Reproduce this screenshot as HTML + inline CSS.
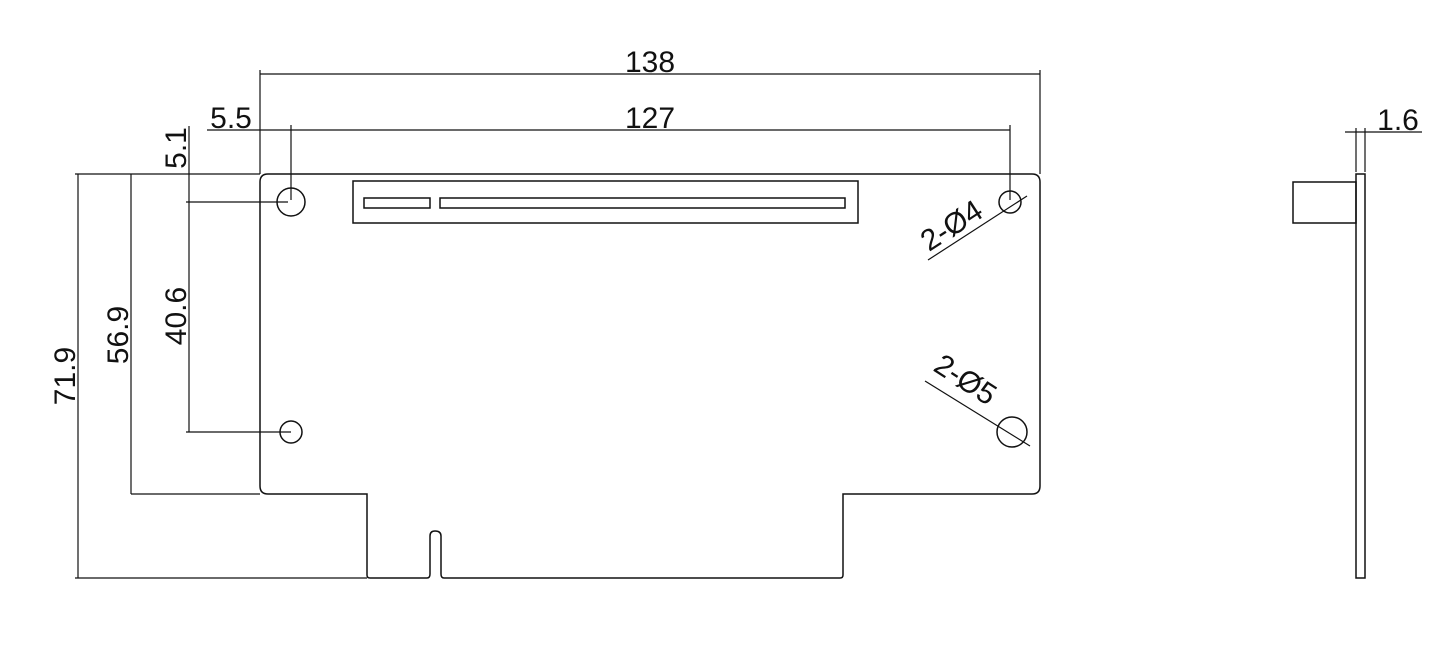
<!DOCTYPE html>
<html><head><style>html,body{margin:0;background:#fff}svg{display:block}</style></head><body>
<svg width="1440" height="666" viewBox="0 0 1440 666" xmlns="http://www.w3.org/2000/svg" font-family="Liberation Sans, sans-serif" font-size="30" fill="none" stroke="#111" stroke-width="1.5">
<path d="M268 174 H1032 Q1040 174 1040 182 V486 Q1040 494 1032 494 H843 V575 Q843 578 840 578 H444 Q441 578 441 574 V536 Q441 531 435 531 Q430 531 430 536 V574 Q430 578 427 578 H370 Q367 578 367 575 V494 H268 Q260 494 260 486 V182 Q260 174 268 174 Z"/>
<rect x="353" y="181" width="505" height="42"/>
<rect x="364" y="198" width="66" height="10"/>
<rect x="440" y="198" width="405" height="10"/>
<circle cx="291" cy="202" r="14"/>
<circle cx="291" cy="432" r="11"/>
<circle cx="1010" cy="202" r="11"/>
<circle cx="1012" cy="432" r="15"/>
<g stroke-width="1.2">
<line x1="260" y1="74" x2="1040" y2="74"/>
<line x1="260" y1="70" x2="260" y2="174"/>
<line x1="1040" y1="70" x2="1040" y2="174"/>
<line x1="207" y1="130" x2="1010" y2="130"/>
<line x1="291" y1="125" x2="291" y2="200"/>
<line x1="1010" y1="125" x2="1010" y2="200"/>
<line x1="75" y1="174" x2="260" y2="174"/>
<line x1="75" y1="578" x2="367" y2="578"/>
<line x1="131" y1="494" x2="260" y2="494"/>
<line x1="78" y1="174" x2="78" y2="578"/>
<line x1="131" y1="174" x2="131" y2="494"/>
<line x1="189" y1="126" x2="189" y2="432"/>
<line x1="186" y1="202" x2="288" y2="202"/>
<line x1="186" y1="432" x2="291" y2="432"/>
<line x1="928" y1="260" x2="1027" y2="196"/>
<line x1="925" y1="381" x2="1030" y2="446"/>
<line x1="1345" y1="132" x2="1422" y2="132"/>
<line x1="1356" y1="128" x2="1356" y2="172"/>
<line x1="1365" y1="128" x2="1365" y2="172"/>
</g>
<rect x="1356" y="174" width="9" height="404"/>
<rect x="1293" y="182" width="63" height="41"/>
<g fill="#111" stroke="none">
<text x="650" y="72" text-anchor="middle">138</text>
<text x="650" y="128" text-anchor="middle">127</text>
<text x="231" y="128" text-anchor="middle">5.5</text>
<text x="1398" y="130" text-anchor="middle">1.6</text>
<text transform="translate(75,376) rotate(-90)" text-anchor="middle">71.9</text>
<text transform="translate(128,335) rotate(-90)" text-anchor="middle">56.9</text>
<text transform="translate(186,316) rotate(-90)" text-anchor="middle">40.6</text>
<text transform="translate(186,148) rotate(-90)" text-anchor="middle">5.1</text>
<text transform="translate(957,234) rotate(-33)" text-anchor="middle">2-Ø4</text>
<text transform="translate(960,388) rotate(33)" text-anchor="middle">2-Ø5</text>
</g>
</svg>
</body></html>
